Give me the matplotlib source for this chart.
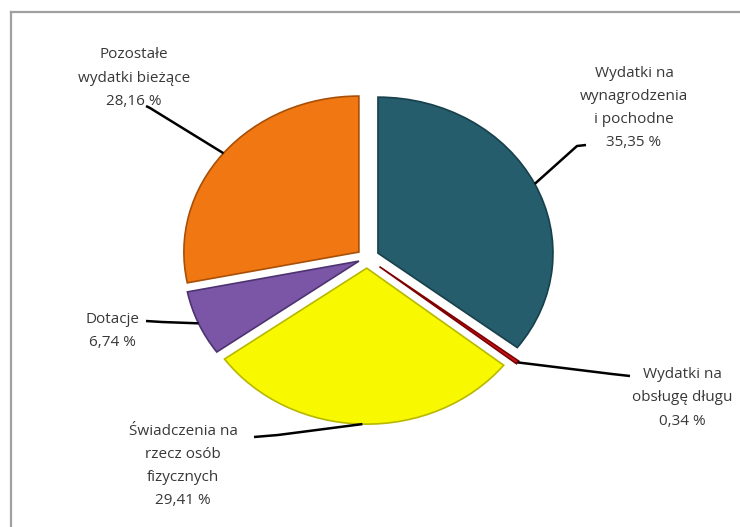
import numpy as np
import matplotlib
matplotlib.use('Agg')
import matplotlib.pyplot as plt
from matplotlib.lines import Line2D

labels = ['Wydatki na\nwynagrodzenia\ni pochodne', 'Wydatki na\nobsługę długu',
          'Świadczenia na\nrzecz osób\nfizycznych', 'Dotacje', 'Pozostałe\nwydatki bieżące']
values = [35.35, 0.34, 29.41, 6.74, 28.16]
value_txt = ['35,35 %', '0,34 %', '29,41 %', '6,74 %', '28,16 %']
colors = ['#255d6c', '#c4161c', '#f8f800', '#7b56a6', '#f07712']
edges = ['#17404b', '#800000', '#b8b800', '#4d3370', '#a84f08']
explode = [0.07, 0.09, 0.065, 0.05, 0.06]

# pixel layout of the picture (y from top)
W, H = 740, 527
CX, CY = 367, 258
RX, RY = 175, 156

def d(x, y):
    return (x - CX) / RX, (CY - y) / RY

fig = plt.figure(figsize=(W / 100, H / 100), dpi=100)
ax = fig.add_axes([0, 0, 1, 1])
wedges, _ = ax.pie(values, colors=colors, explode=explode, startangle=90,
                   counterclock=False, radius=1,
                   wedgeprops=dict(linewidth=1.2))
for w, e in zip(wedges, edges):
    w.set_edgecolor(e)
ax.set_aspect('auto')
ax.set_xlim(-CX / RX, (W - CX) / RX)
ax.set_ylim(-(H - CY) / RY, CY / RY)
ax.axis('off')

# label positions (centre of text block) and leader start points, in pixels
txt_pos = [(634, 108), (682, 398), (183, 466), (112, 331), (134, 78)]
lead_pts = [[(586, 145), (577, 146)], [(630, 376), (612, 374)],
            [(254, 437), (278, 435)], [(146, 321), (162, 322)],
            [(146, 106), (150, 108)]]

for i, w in enumerate(wedges):
    mid = np.deg2rad((w.theta1 + w.theta2) / 2)
    cx, cy = w.center
    ax_pt = (cx + np.cos(mid), cy + np.sin(mid))
    pts = [d(*p) for p in lead_pts[i]] + [ax_pt]
    xs, ys = zip(*pts)
    ax.plot(xs, ys, color='black', lw=1.8, solid_capstyle='butt', zorder=1)
    ax.text(*d(*txt_pos[i]), labels[i] + '\n' + value_txt[i], ha='center', va='center',
            fontsize=11, family='Open Sans', color='#383838', linespacing=1.75)

# frame
fig.add_artist(Line2D([11 / W, 1], [1 - 12 / H, 1 - 12 / H], color='#a0a0a0', lw=1.6))
fig.add_artist(Line2D([11 / W, 11 / W], [0, 1 - 12 / H], color='#a0a0a0', lw=1.6))

fig.savefig('out.png', dpi=100, facecolor='white')
